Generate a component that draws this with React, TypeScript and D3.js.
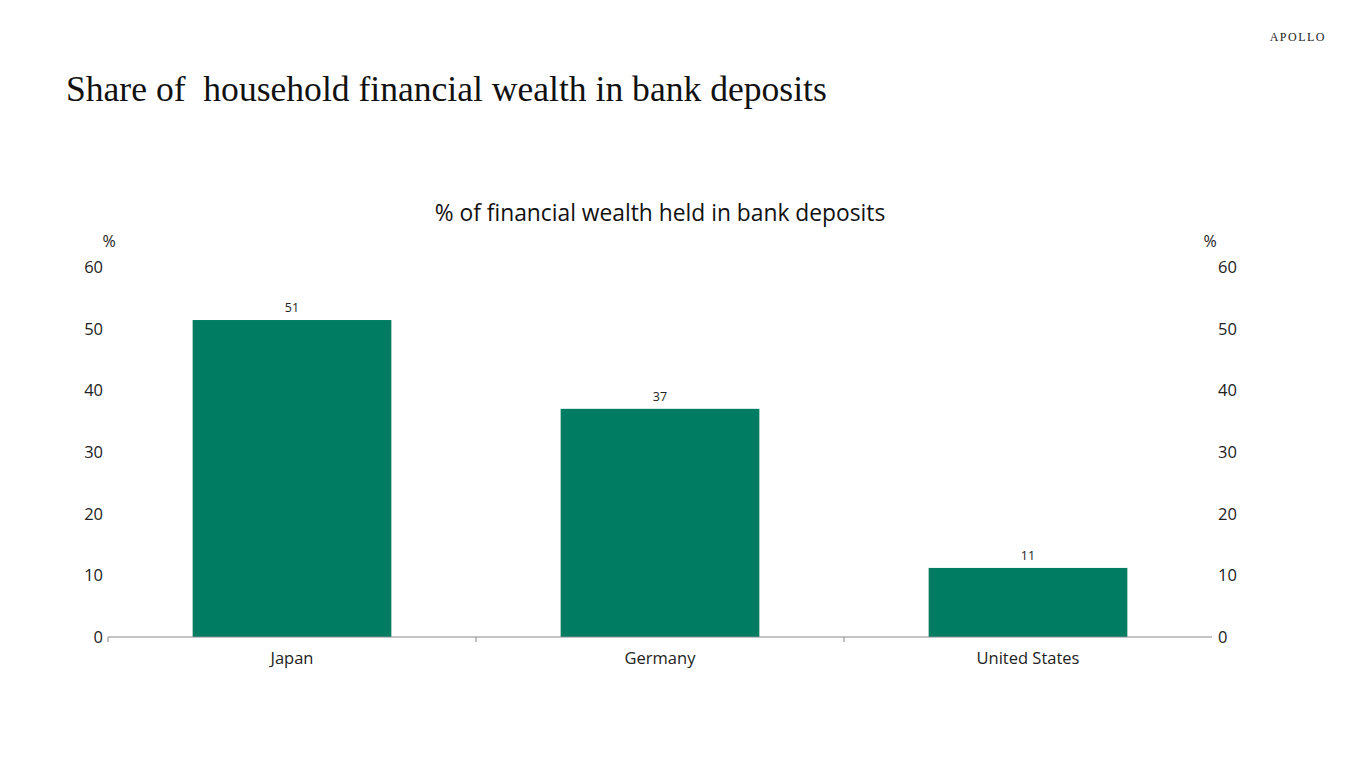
import { useEffect, useRef } from 'react'
import * as d3 from 'd3'

const countries = ['Japan', 'Germany', 'United States']
const depositShare = [51.4, 37.0, 11.2]
const shareLabels = ['51', '37', '11']
const yTicks = [0, 10, 20, 30, 40, 50, 60]

export default function App() {
  const svgRef = useRef<SVGSVGElement>(null)

  useEffect(() => {
    if (!svgRef.current) return
    const svg = d3.select(svgRef.current)
    svg.selectAll('*').remove()

    const width = 1366
    const height = 768
    const margin = { top: 267, right: 154, bottom: 131, left: 108 }
    const sans = '"Open Sans", "Noto Sans", sans-serif'

    svg.attr('width', width).attr('height', height)

    svg.append('rect').attr('width', width).attr('height', height).style('fill', '#fff')

    // Header
    svg.append('text')
      .attr('x', 66)
      .attr('y', 101)
      .style('white-space', 'pre')
      .style('font-family', '"Liberation Serif", "Times New Roman", serif')
      .style('font-size', '35.6px')
      .style('fill', '#111')
      .text('Share of  household financial wealth in bank deposits')

    svg.append('text')
      .attr('x', 1326)
      .attr('y', 41)
      .style('text-anchor', 'end')
      .style('font-family', '"Liberation Serif", serif')
      .style('font-size', '12px')
      .style('letter-spacing', '1.5px')
      .style('fill', '#222')
      .text('APOLLO')

    svg.append('text')
      .attr('x', 660)
      .attr('y', 221)
      .style('text-anchor', 'middle')
      .style('font-family', sans)
      .style('font-size', '22.8px')
      .style('fill', '#111')
      .text('% of financial wealth held in bank deposits')

    const x = d3.scaleBand()
      .domain(countries)
      .range([margin.left, width - margin.right])
      .paddingInner(0.46)
      .paddingOuter(0.23)

    const y = d3.scaleLinear()
      .domain([0, 60])
      .range([height - margin.bottom, margin.top])

    const g = svg.append('g')

    // Bars
    g.selectAll('.bar')
      .data(countries)
      .enter()
      .append('rect')
      .attr('class', 'bar')
      .attr('x', d => x(d)!)
      .attr('width', x.bandwidth())
      .attr('y', (d, i) => y(depositShare[i]))
      .attr('height', (d, i) => y(0) - y(depositShare[i]))
      .style('fill', '#007c63')

    g.selectAll('.val')
      .data(countries)
      .enter()
      .append('text')
      .attr('x', d => x(d)! + x.bandwidth() / 2)
      .attr('y', (d, i) => y(depositShare[i]) - 8)
      .style('text-anchor', 'middle')
      .style('font-family', sans)
      .style('font-size', '12.5px')
      .style('fill', '#222')
      .text((d, i) => shareLabels[i])

    // X axis line and ticks at category boundaries
    const x0 = margin.left
    const x1 = width - margin.right
    g.append('line')
      .attr('x1', x0).attr('x2', x1)
      .attr('y1', y(0)).attr('y2', y(0))
      .style('stroke', '#888')
      .style('stroke-width', 1)

    const boundaries = [0, 1, 2].map(i => x0 + i * (x1 - x0) / countries.length)
    g.selectAll('.xtick')
      .data(boundaries)
      .enter()
      .append('line')
      .attr('x1', d => d).attr('x2', d => d)
      .attr('y1', y(0)).attr('y2', y(0) + 5)
      .style('stroke', '#888')

    g.selectAll('.xlab')
      .data(countries)
      .enter()
      .append('text')
      .attr('x', d => x(d)! + x.bandwidth() / 2)
      .attr('y', y(0) + 27)
      .style('text-anchor', 'middle')
      .style('font-family', sans)
      .style('font-size', '16.5px')
      .style('fill', '#222')
      .text(d => d)

    // Y tick labels both sides
    g.selectAll('.ylabL')
      .data(yTicks)
      .enter()
      .append('text')
      .attr('x', 103)
      .attr('y', d => y(d) + 6)
      .style('text-anchor', 'end')
      .style('font-family', sans)
      .style('font-size', '16.5px')
      .style('fill', '#222')
      .text(d => d)

    g.selectAll('.ylabR')
      .data(yTicks)
      .enter()
      .append('text')
      .attr('x', 1218)
      .attr('y', d => y(d) + 6)
      .style('text-anchor', 'start')
      .style('font-family', sans)
      .style('font-size', '16.5px')
      .style('fill', '#222')
      .text(d => d)

    g.append('text')
      .attr('x', 109).attr('y', 247)
      .style('text-anchor', 'middle')
      .style('font-family', sans)
      .style('font-size', '16px')
      .style('fill', '#222')
      .text('%')

    g.append('text')
      .attr('x', 1210).attr('y', 247)
      .style('text-anchor', 'middle')
      .style('font-family', sans)
      .style('font-size', '16px')
      .style('fill', '#222')
      .text('%')
  }, [])

  return (
    <div style={{ position: 'absolute', left: 0, top: 0 }}>
      <svg ref={svgRef}></svg>
    </div>
  )
}
